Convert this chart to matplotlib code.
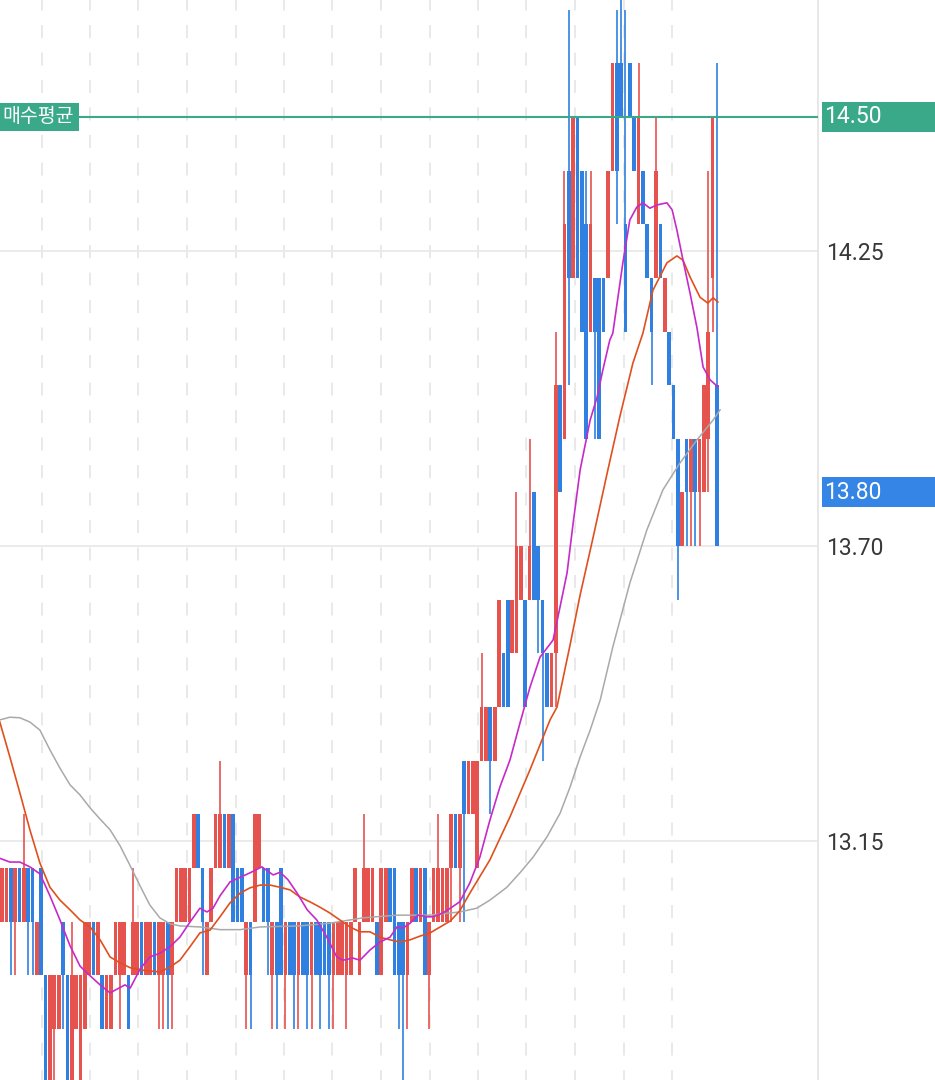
import matplotlib
matplotlib.use("Agg")
import matplotlib.pyplot as plt
from matplotlib.patches import Rectangle
from matplotlib.transforms import blended_transform_factory

# ---------------- data ----------------
opens = [13.00, 13.00, 13.10, 13.00, 13.10, 13.00, 13.10, 13.10, 12.90, 13.10,
         12.90, 12.70, 12.80, 12.80, 13.00, 12.90, 12.70, 12.80, 12.70, 12.80,
         12.90, 13.00, 12.90, 12.90, 12.80, 12.80, 12.90, 12.90, 12.90, 12.90,
         12.90, 12.90, 13.00, 12.90, 12.90, 13.00, 12.90, 12.90, 13.00, 12.90,
         13.00, 13.00, 13.00, 13.00, 13.10, 13.20, 13.10, 12.90, 13.00, 13.10,
         13.10, 13.20, 13.10, 13.20, 13.10, 13.10, 12.90, 13.00, 13.00, 13.10,
         13.10, 13.10, 12.90, 13.00, 13.10, 12.90, 13.00, 13.00, 12.90, 13.00,
         13.00, 12.90, 13.00, 13.00, 13.00, 13.00, 12.90, 12.90, 12.90, 12.90,
         12.90, 13.00, 12.90, 13.00, 13.00, 13.00, 13.00, 12.90, 13.00, 13.10,
         13.10, 13.00, 13.00, 12.90, 13.00, 13.10, 13.00, 13.10, 12.90, 13.00,
         13.00, 13.00, 13.00, 13.10, 13.20, 13.10, 13.30, 13.20, 13.20, 13.10,
         13.30, 13.30, 13.40, 13.30, 13.40, 13.50, 13.60, 13.50, 13.50, 13.60,
         13.60, 13.60, 13.80, 13.70, 13.60, 13.50, 13.40, 13.50, 14.00, 13.90,
         14.40, 14.20, 14.50, 14.40, 14.30, 14.10, 14.20, 14.20, 14.20, 14.20,
         14.40, 14.60, 14.60, 14.30, 14.60, 14.50, 14.30, 14.40, 14.30, 14.20,
         14.20, 14.30, 14.10, 14.10, 14.00, 13.90, 13.70, 13.90, 13.80, 13.90,
         13.80, 13.80, 13.90, 14.20, 14.00]
closes = [13.10, 13.10, 13.00, 13.10, 13.00, 13.10, 13.00, 13.00, 13.00, 12.90,
          12.70, 12.90, 12.90, 12.90, 12.90, 12.70, 12.90, 12.90, 12.90, 13.00,
          13.00, 12.90, 13.00, 12.80, 12.90, 12.90, 13.00, 13.00, 13.00, 12.80,
          13.00, 13.00, 12.90, 13.00, 13.00, 12.90, 13.00, 13.00, 12.90, 13.00,
          13.10, 13.10, 13.10, 13.10, 13.20, 13.10, 13.00, 13.00, 13.10, 13.20,
          13.20, 13.10, 13.20, 13.00, 13.00, 13.00, 13.00, 12.90, 13.20, 13.20,
          13.00, 13.00, 13.00, 12.90, 12.90, 13.00, 12.90, 12.90, 13.00, 12.90,
          12.90, 13.00, 12.90, 12.90, 12.90, 12.90, 13.00, 13.00, 13.00, 13.00,
          13.00, 13.10, 13.00, 13.10, 13.10, 13.10, 12.90, 13.10, 13.10, 13.00,
          12.90, 12.90, 12.90, 13.00, 13.10, 13.00, 13.10, 12.90, 13.00, 13.10,
          13.10, 13.10, 13.10, 13.20, 13.10, 13.20, 13.20, 13.30, 13.30, 13.30,
          13.40, 13.40, 13.30, 13.40, 13.60, 13.40, 13.40, 13.60, 13.70, 13.70,
          13.40, 13.70, 13.60, 13.60, 13.50, 13.40, 13.50, 14.00, 13.80, 14.30,
          14.20, 14.50, 14.20, 14.10, 13.90, 14.30, 14.10, 13.90, 14.10, 14.40,
          14.60, 14.40, 14.50, 14.10, 14.50, 14.40, 14.50, 14.30, 14.20, 14.10,
          14.40, 14.20, 14.20, 14.00, 13.90, 13.70, 13.80, 13.80, 13.90, 13.80,
          13.90, 14.00, 14.10, 14.50, 13.70]
highs = [13.10, 13.10, 13.10, 13.10, 13.10, 13.20, 13.10, 13.10, 13.00, 13.10,
         12.90, 12.90, 12.90, 12.90, 13.00, 12.90, 13.00, 12.90, 12.90, 13.00,
         13.00, 13.00, 13.00, 12.90, 12.90, 12.90, 13.00, 13.00, 13.00, 12.90,
         13.10, 13.00, 13.00, 13.00, 13.00, 13.00, 13.00, 13.00, 13.00, 13.00,
         13.10, 13.10, 13.10, 13.10, 13.20, 13.20, 13.10, 13.00, 13.10, 13.20,
         13.30, 13.20, 13.20, 13.20, 13.10, 13.10, 13.00, 13.00, 13.20, 13.20,
         13.10, 13.10, 13.00, 13.00, 13.10, 13.00, 13.00, 13.00, 13.00, 13.00,
         13.00, 13.00, 13.00, 13.00, 13.00, 13.00, 13.00, 13.00, 13.00, 13.00,
         13.00, 13.10, 13.00, 13.20, 13.10, 13.10, 13.00, 13.10, 13.10, 13.10,
         13.10, 13.00, 13.00, 13.00, 13.10, 13.10, 13.10, 13.10, 13.00, 13.10,
         13.20, 13.10, 13.10, 13.20, 13.20, 13.20, 13.30, 13.30, 13.30, 13.30,
         13.50, 13.40, 13.40, 13.40, 13.60, 13.50, 13.60, 13.60, 13.80, 13.70,
         13.60, 13.90, 13.80, 13.70, 13.60, 13.50, 13.50, 14.10, 14.00, 14.40,
         14.70, 14.50, 14.50, 14.40, 14.40, 14.40, 14.20, 14.20, 14.20, 14.40,
         14.60, 14.70, 14.75, 14.70, 14.60, 14.50, 14.60, 14.40, 14.30, 14.20,
         14.50, 14.30, 14.20, 14.10, 14.00, 13.90, 13.80, 13.90, 13.90, 13.90,
         13.90, 14.00, 14.40, 14.50, 14.60]
lows = [13.00, 13.00, 12.90, 12.90, 13.00, 13.00, 12.90, 12.90, 12.90, 12.90,
        12.65, 12.70, 12.65, 12.80, 12.80, 12.65, 12.65, 12.80, 12.65, 12.80,
        12.90, 12.90, 12.90, 12.80, 12.80, 12.80, 12.90, 12.80, 12.90, 12.80,
        12.90, 12.90, 12.90, 12.90, 12.90, 12.90, 12.80, 12.80, 12.80, 12.80,
        13.00, 13.00, 13.00, 13.00, 13.10, 13.10, 12.90, 12.90, 13.00, 13.10,
        13.10, 13.10, 13.10, 13.00, 13.00, 13.00, 12.80, 12.80, 13.00, 13.10,
        13.00, 12.90, 12.80, 12.80, 12.90, 12.80, 12.90, 12.80, 12.80, 12.90,
        12.80, 12.80, 12.90, 12.80, 12.90, 12.80, 12.80, 12.90, 12.90, 12.80,
        12.90, 13.00, 12.90, 13.00, 13.00, 13.00, 12.90, 12.90, 13.00, 13.00,
        12.90, 12.80, 12.65, 12.80, 13.00, 13.00, 13.00, 12.90, 12.80, 13.00,
        13.00, 13.00, 13.00, 13.00, 13.10, 13.00, 13.00, 13.20, 13.20, 13.10,
        13.30, 13.30, 13.20, 13.30, 13.40, 13.40, 13.40, 13.50, 13.50, 13.60,
        13.40, 13.60, 13.60, 13.50, 13.30, 13.40, 13.40, 13.40, 13.80, 13.90,
        14.00, 14.20, 14.20, 14.10, 13.90, 14.10, 13.90, 13.90, 14.10, 14.20,
        14.40, 14.30, 14.50, 14.10, 14.50, 14.40, 14.30, 14.30, 14.20, 14.00,
        14.20, 14.20, 14.10, 14.00, 13.90, 13.60, 13.70, 13.70, 13.70, 13.70,
        13.70, 13.80, 13.80, 14.10, 13.70]

# moving averages (x in candle-index units)
ma_short_x = [-0.5, 1.8, 4.1, 6.4, 8.7, 11.0, 13.3, 15.6, 17.9, 20.2, 22.5, 24.8, 25.9, 28.2, 29.4,
              31.7, 33.9, 36.2, 38.5, 40.8, 43.1, 45.4, 47.0, 48.4, 50.0, 52.3, 56.9, 59.6, 62.2,
              63.8, 65.6, 67.7, 70.0, 72.2, 74.5, 76.8, 78.2, 80.5, 82.1, 84.4, 86.7, 89.0, 90.6,
              92.0, 93.6, 95.4, 97.5, 98.9, 101.1, 103.2, 105.0, 107.3, 109.6, 111.9, 114.2, 116.5,
              118.8, 121.1, 123.4, 125.0, 126.4, 128.0, 129.6, 131.0, 132.6, 134.9, 136.5, 137.8,
              139.4, 140.1, 142.4, 144.0, 145.6, 147.0, 148.6, 150.2, 152.5, 153.7, 154.8, 156.2,
              157.8, 159.4, 160.8, 162.4, 164.2]
ma_short = [13.118, 13.111, 13.111, 13.102, 13.089, 13.048, 13.003, 12.955, 12.917, 12.899, 12.882,
            12.867, 12.872, 12.882, 12.876, 12.912, 12.934, 12.941, 12.953, 12.971, 12.999, 13.025,
            13.018, 13.025, 13.048, 13.074, 13.091, 13.102, 13.087, 13.092, 13.078, 13.053, 13.022,
            13.003, 12.971, 12.934, 12.928, 12.932, 12.928, 12.947, 12.962, 12.971, 12.990, 12.988,
            12.997, 13.012, 13.009, 13.009, 13.016, 13.027, 13.037, 13.072, 13.120, 13.189, 13.251,
            13.301, 13.370, 13.437, 13.493, 13.510, 13.525, 13.587, 13.650, 13.743, 13.842, 13.935,
            13.978, 14.028, 14.084, 14.097, 14.228, 14.308, 14.332, 14.340, 14.330, 14.336, 14.340,
            14.327, 14.289, 14.233, 14.172, 14.107, 14.034, 14.010, 13.997]
ma_mid_x = [-0.5, 1.8, 4.1, 6.4, 8.7, 11.0, 13.3, 15.6, 17.9, 20.2, 22.5, 24.8, 27.1, 29.4, 31.7,
            33.9, 36.2, 38.5, 40.8, 43.1, 45.4, 47.7, 50.0, 52.3, 54.6, 56.9, 59.2, 61.5, 63.8,
            66.1, 68.3, 70.6, 72.9, 75.2, 77.5, 79.8, 82.1, 84.4, 86.7, 89.0, 91.3, 93.6, 95.9,
            98.2, 100.5, 102.8, 105.0, 107.3, 111.9, 116.5, 121.1, 125.7, 127.3, 130.3, 132.6,
            135.6, 138.8, 141.7, 144.7, 147.0, 149.3, 152.5, 154.8, 156.2, 157.8, 160.1, 161.9,
            163.1, 164.2]
ma_mid = [13.372, 13.307, 13.240, 13.171, 13.109, 13.064, 13.040, 13.022, 13.003, 12.990, 12.966,
          12.934, 12.923, 12.914, 12.910, 12.908, 12.906, 12.915, 12.928, 12.953, 12.979, 12.984,
          13.009, 13.035, 13.053, 13.063, 13.068, 13.068, 13.064, 13.059, 13.046, 13.037, 13.027,
          13.016, 13.003, 12.990, 12.981, 12.981, 12.971, 12.966, 12.962, 12.966, 12.973, 12.979,
          12.990, 13.001, 13.020, 13.053, 13.115, 13.195, 13.283, 13.376, 13.400, 13.516, 13.609,
          13.717, 13.836, 13.941, 14.041, 14.097, 14.177, 14.228, 14.241, 14.233, 14.202, 14.164,
          14.153, 14.163, 14.155]
ma_long_x = [-0.5, 1.8, 4.1, 6.4, 8.7, 11.0, 13.3, 15.6, 17.9, 20.2, 22.5, 24.8, 27.1, 29.4, 31.7,
             33.9, 36.2, 38.5, 40.8, 45.4, 50.0, 54.6, 59.2, 68.3, 75.2, 82.8, 90.6, 98.2, 105.0,
             108.9, 111.9, 115.8, 118.8, 121.8, 125.0, 128.0, 130.3, 132.6, 134.9, 137.2, 140.1,
             144.0, 147.9, 151.6, 155.5, 159.4, 163.1, 164.7]
ma_long = [13.376, 13.381, 13.380, 13.372, 13.357, 13.320, 13.286, 13.255, 13.236, 13.212, 13.191,
           13.171, 13.141, 13.104, 13.066, 13.031, 13.007, 12.996, 12.992, 12.990, 12.985, 12.985,
           12.990, 12.992, 12.997, 13.007, 13.012, 13.012, 13.018, 13.025, 13.040, 13.064, 13.091,
           13.120, 13.158, 13.202, 13.251, 13.307, 13.357, 13.413, 13.512, 13.631, 13.730, 13.805,
           13.855, 13.898, 13.935, 13.954]

price_ticks = [13.15, 13.70, 14.25]
price_tick_labels = ["13.15", "13.70", "14.25"]
avg_price = 14.50
avg_label = "매수평균"
avg_price_label = "14.50"
last_price = 13.80
last_price_label = "13.80"
date_grid = [9.1, 20.2, 31.3, 42.5, 53.6, 64.7, 75.8, 86.9, 98.1, 109.2, 120.3, 131.4, 142.6, 153.7]

# ---------------- style ----------------
RED = "#e6534f"
BLUE = "#2f80e0"
GREEN = "#3aa98a"
BOXBLUE = "#3585e6"

fig = plt.figure(figsize=(9.35, 10.8), dpi=100)
fig.patch.set_facecolor("white")
ax = fig.add_axes([0, 0, 818 / 935, 1])
ax.set_facecolor("white")
ax.set_xlim(-0.46, 187.16)
ax.set_ylim(12.7047, 14.7181)

# grid
ax.set_xticks(date_grid)
ax.set_yticks(price_ticks)
ax.grid(axis="x", color="#e3e3e3", lw=1.1, ls=(2, (8.5, 9.5)), zorder=0)
ax.grid(axis="y", color="#ebebeb", lw=1.4, ls="-", zorder=0)
ax.tick_params(axis="x", length=0, labelbottom=False)
ax.yaxis.tick_right()
ax.set_yticklabels(price_tick_labels, fontsize=16.5, color="#383838", fontfamily="Roboto")
ax.tick_params(axis="y", length=0, pad=6)
for s in ["top", "left", "bottom"]:
    ax.spines[s].set_visible(False)
ax.spines["right"].set_color("#e6e6e6")
ax.spines["right"].set_linewidth(1.3)

# candles
idx = list(range(len(opens)))
cols = [RED if c >= o else BLUE for o, c in zip(opens, closes)]
ax.vlines(idx, lows, highs, colors=cols, lw=1.2, zorder=2)
bottoms = [min(o, c) for o, c in zip(opens, closes)]
heights = [abs(c - o) for o, c in zip(opens, closes)]
ax.bar(idx, heights, bottom=bottoms, width=0.84, color=cols, linewidth=0, zorder=3)

# moving averages
ax.plot(ma_long_x, ma_long, color="#a9a9a9", lw=1.1, zorder=4)
ax.plot(ma_mid_x, ma_mid, color="#e0501e", lw=1.2, zorder=5)
ax.plot(ma_short_x, ma_short, color="#c62ac8", lw=1.2, zorder=6)

# average buy price line and labels
ax.axhline(avg_price, xmin=79 / 818, xmax=1.0, color=GREEN, lw=1.5, zorder=7)
tr = blended_transform_factory(ax.transAxes, ax.transData)
h_avg = 28 / 536.4
ax.add_patch(Rectangle((0, avg_price - h_avg / 2), 79 / 818, h_avg, transform=tr,
                       facecolor=GREEN, edgecolor="none", zorder=8, clip_on=False))
ax.text(2 / 818, avg_price, avg_label, transform=tr, ha="left", va="center",
        fontsize=14, color="white", fontfamily=["Noto Sans CJK KR", "DejaVu Sans"], zorder=9)

h_box = 30 / 536.4
ax.add_patch(Rectangle((822 / 818, avg_price - h_box / 2), 113 / 818, h_box, transform=tr,
                       facecolor=GREEN, edgecolor="none", zorder=8, clip_on=False))
ax.text(824 / 818, avg_price, avg_price_label, transform=tr, ha="left", va="center",
        fontsize=16.5, color="white", fontfamily="Roboto", zorder=9, clip_on=False)
ax.add_patch(Rectangle((822 / 818, last_price - h_box / 2), 113 / 818, h_box, transform=tr,
                       facecolor=BOXBLUE, edgecolor="none", zorder=8, clip_on=False))
ax.text(824 / 818, last_price, last_price_label, transform=tr, ha="left", va="center",
        fontsize=16.5, color="white", fontfamily="Roboto", zorder=9, clip_on=False)

fig.savefig("out.png", dpi=100)
